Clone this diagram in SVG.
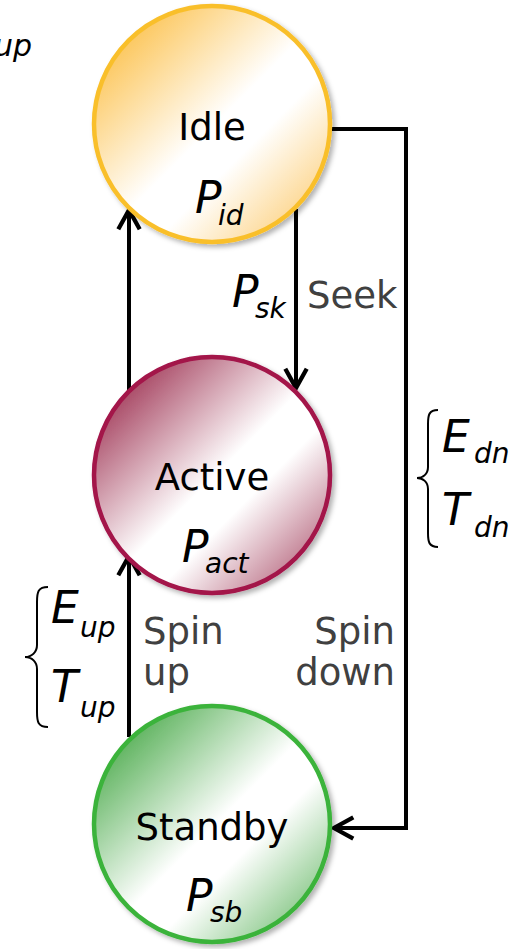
<svg xmlns="http://www.w3.org/2000/svg" width="512" height="949" viewBox="0 0 512 949">
<style>
.lbl{font-family:"DejaVu Sans",Verdana,sans-serif;font-size:37px;fill:#000}
.gry{font-family:"DejaVu Sans",Verdana,sans-serif;font-size:37px;fill:#404040}
.m{font-family:"DejaVu Sans",Verdana,sans-serif;font-style:italic;font-size:44px;fill:#000}
.s{font-size:28px}
.conn{fill:none;stroke:#000;stroke-width:4;marker-end:url(#arr)}
.brace{fill:none;stroke:#000;stroke-width:2}
</style>
<defs>
<marker id="arr" markerUnits="userSpaceOnUse" markerWidth="30" markerHeight="30" viewBox="-24 -14 28 28" refX="0" refY="0" orient="auto">
<path d="M -18 -10 L 0 0 L -18 10" fill="none" stroke="#000" stroke-width="4" stroke-linejoin="miter"/>
</marker>
<filter id="sh" x="-20%" y="-20%" width="140%" height="140%">
<feDropShadow dx="3" dy="3" stdDeviation="2.5" flood-color="#000" flood-opacity="0.3"/>
</filter>
<linearGradient id="gIdle" x1="0.1" y1="0.1" x2="0.95" y2="0.95">
<stop offset="0.05" stop-color="#FCC860"/>
<stop offset="0.48" stop-color="#FFFFFF"/>
<stop offset="0.62" stop-color="#FFFFFF"/>
<stop offset="1" stop-color="#FCCB70"/>
</linearGradient>
<linearGradient id="gAct" x1="0.1" y1="0.1" x2="0.95" y2="0.95">
<stop offset="0.05" stop-color="#AA4C68"/>
<stop offset="0.48" stop-color="#FFFFFF"/>
<stop offset="0.62" stop-color="#FFFFFF"/>
<stop offset="1" stop-color="#AE5670"/>
</linearGradient>
<linearGradient id="gSb" x1="0.1" y1="0.1" x2="0.95" y2="0.95">
<stop offset="0.05" stop-color="#62B562"/>
<stop offset="0.48" stop-color="#FFFFFF"/>
<stop offset="0.62" stop-color="#FFFFFF"/>
<stop offset="1" stop-color="#6DBB6D"/>
</linearGradient>
</defs>
<rect width="512" height="949" fill="#fff"/>

<text class="m" x="-6" y="56"><tspan font-size="30">up</tspan></text>

<g id="connectors">
<path class="conn" d="M 129 391 L 129 210"/>
<path class="conn" d="M 296 209 L 296 388"/>
<path class="conn" d="M 332 129 L 406 129 L 406 828 L 334 828"/>
<path class="conn" d="M 129 737 L 129 556"/>
</g>

<g id="idle">
<circle cx="212" cy="124" r="118" fill="url(#gIdle)" stroke="#F9BF2C" stroke-width="4.5" filter="url(#sh)"/>
<text class="lbl" x="212" y="140" text-anchor="middle">Idle</text>
<text class="m"><tspan x="195" y="213">P</tspan><tspan class="s" x="218" y="225">id</tspan></text>
</g>

<g id="active">
<circle cx="212" cy="475" r="118" fill="url(#gAct)" stroke="#A3134A" stroke-width="4.5" filter="url(#sh)"/>
<text class="lbl" x="212" y="490" text-anchor="middle">Active</text>
<text class="m"><tspan x="182" y="562">P</tspan><tspan class="s" x="205" y="573">act</tspan></text>
</g>

<g id="standby">
<circle cx="212" cy="824" r="118" fill="url(#gSb)" stroke="#3BB33A" stroke-width="4.5" filter="url(#sh)"/>
<text class="lbl" x="212" y="840" text-anchor="middle">Standby</text>
<text class="m"><tspan x="186" y="911">P</tspan><tspan class="s" x="210" y="922">sb</tspan></text>
</g>

<g id="seek-label">
<text class="m"><tspan x="232" y="307">P</tspan><tspan class="s" x="255" y="318">sk</tspan></text>
<text class="gry" x="307" y="308">Seek</text>
</g>

<g id="spinup-label">
<text class="gry" x="143" y="644">Spin</text>
<text class="gry" x="143" y="685">up</text>
<path class="brace" d="M 48 587 C 38 587 37 592 37 602 L 37 645 C 37 652 32 657 25 657 C 32 657 37 662 37 669 L 37 712 C 37 722 38 727 48 727"/>
<text class="m"><tspan x="51" y="623">E</tspan><tspan class="s" x="80" y="637">up</tspan></text>
<text class="m"><tspan x="51" y="702">T</tspan><tspan class="s" x="80" y="717">up</tspan></text>
</g>

<g id="spindown-label">
<text class="gry" x="395" y="644" text-anchor="end">Spin</text>
<text class="gry" x="395" y="685" text-anchor="end">down</text>
<path class="brace" d="M 438 410 C 429 410 428 415 428 424 L 428 467 C 428 474 423 478 417 478 C 423 478 428 482 428 489 L 428 533 C 428 542 429 547 438 547"/>
<text class="m"><tspan x="442" y="452">E</tspan><tspan class="s" x="474" y="463">dn</tspan></text>
<text class="m"><tspan x="442" y="525">T</tspan><tspan class="s" x="474" y="537">dn</tspan></text>
</g>
</svg>
